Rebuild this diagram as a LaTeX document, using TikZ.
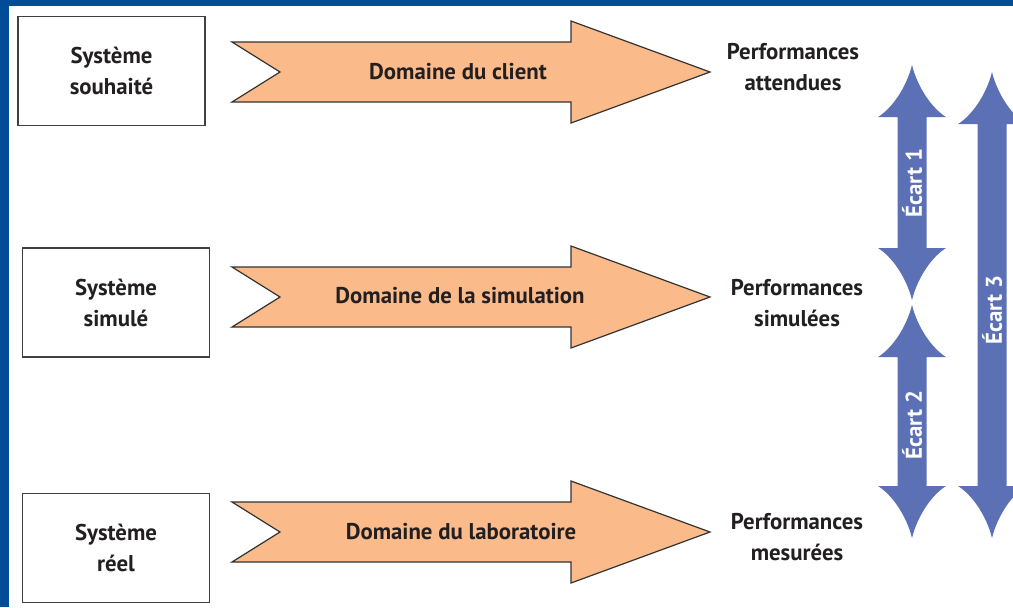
\documentclass[tikz,border=0pt]{standalone}
\usepackage{fontspec}
\setmainfont{PT Sans}
\usetikzlibrary{positioning}

\definecolor{fondbleu}{RGB}{0,76,151}
\definecolor{orangedom}{RGB}{250,186,138}
\definecolor{bleuecart}{RGB}{92,113,181}
\definecolor{texte}{RGB}{35,31,32}

% fat orange arrow, centre line at y = #1
\newcommand{\domarrow}[1]{%
  \draw [domfill] (232,{#1-30}) -- (571,{#1-30}) -- (571,{#1-51}) -- (710,#1)
    -- (571,{#1+51}) -- (571,{#1+30}) -- (232,{#1+30}) -- (280,#1) -- cycle;}

% blue double arrow: centre x = #1, top tip #2, bottom tip #3
\newcommand{\ecartarrow}[3]{%
  \fill [bleuecart] (#1,#2)
    .. controls ({#1-6},{#2+24}) and ({#1-21},{#2+44}) .. ({#1-34},{#2+52})
    -- ({#1-14.5},{#2+52}) -- ({#1-14.5},{#3-52}) -- ({#1-34},{#3-52})
    .. controls ({#1-21},{#3-44}) and ({#1-6},{#3-24}) .. (#1,#3)
    .. controls ({#1+6},{#3-24}) and ({#1+21},{#3-44}) .. ({#1+34},{#3-52})
    -- ({#1+14.5},{#3-52}) -- ({#1+14.5},{#2+52}) -- ({#1+34},{#2+52})
    .. controls ({#1+21},{#2+44}) and ({#1+6},{#2+24}) .. (#1,#2) -- cycle;}

\tikzset{
  systeme/.style={draw=black!75,line width=0.9pt,minimum width=93.5pt,
    minimum height=54.5pt,align=center},
  domfill/.style={fill=orangedom,draw=black!80,line width=0.6pt},
  domtext/.style={},
  perf/.style={align=center},
  ecart/.style={text=white,rotate=90}
}

\begin{document}
\begin{tikzpicture}
    [x=0.5pt,y=-0.5pt,inner sep=0pt,
     font=\fontsize{11.4}{15.5}\selectfont\bfseries,text=texte]
    \useasboundingbox (0,0) rectangle (1013,607);
    \fill [fondbleu] (0,0) rectangle (1013,607);
    \fill [white] (9,6) rectangle (1013,607);
    \clip (9,6) rectangle (1013,607);

    \node (souhaite) at (111.5,71) [systeme] {Système\\souhaité};
    \node (simule) at (116,302.5) [systeme] {Système\\simulé};
    \node (reel) at (116,548) [systeme] {Système\\réel};

    \domarrow{72}
    \domarrow{297}
    \domarrow{532}
    \node (client) at (458,72) [domtext] {Domaine du client};
    \node (simulation) at (460,296) [domtext] {Domaine de la simulation};
    \node (laboratoire) at (461,532) [domtext] {Domaine du laboratoire};

    \node (attendues) at (793,67) [perf] {Performances\\attendues};
    \node (simulees) at (797,303) [perf] {Performances\\simulées};
    \node (mesurees) at (797,537) [perf] {Performances\\mesurées};

    \ecartarrow{912}{65}{300}
    \ecartarrow{912}{305}{538}
    \ecartarrow{992}{72}{538}
    \node (ecart1) at (912,183) [ecart] {Écart 1};
    \node (ecart2) at (912,425) [ecart] {Écart 2};
    \node (ecart3) at (992,310) [ecart] {Écart 3};
  \end{tikzpicture}
\end{document}
